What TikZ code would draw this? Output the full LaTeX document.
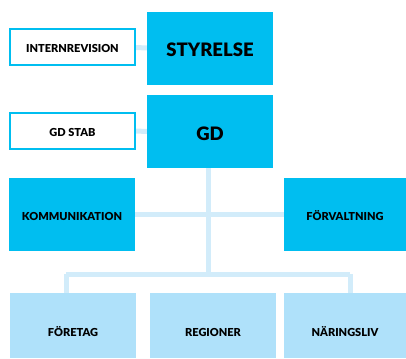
\documentclass[tikz,border=0pt]{standalone}
\usepackage{fontspec}
\setmainfont{Lato}[BoldFont={Lato Black}]
\usetikzlibrary{backgrounds}
\definecolor{topblue}{RGB}{0,190,240}
\definecolor{lowblue}{RGB}{175,225,250}
\definecolor{linkblue}{RGB}{210,236,250}
\tikzset{
  topbox/.style={fill=topblue, inner sep=0pt, minimum width=126pt, minimum height=73pt,
    text height=17pt, text depth=0pt, font=\bfseries\fontsize{18.5}{18.5}\selectfont},
  midbox/.style={fill=topblue, inner sep=0pt, minimum height=73pt,
    text height=12pt, text depth=0pt, font=\bfseries\fontsize{11}{11}\selectfont},
  sidebox/.style={draw=topblue, line width=1.5pt, fill=white, inner sep=0pt,
    minimum width=125pt, minimum height=36pt,
    text height=12pt, text depth=0pt, font=\bfseries\fontsize{11}{11}\selectfont},
  lowbox/.style={fill=lowblue, inner sep=0pt, minimum height=65pt,
    text height=21pt, text depth=0pt, font=\bfseries\fontsize{11}{11}\selectfont},
  link/.style={draw=linkblue, line width=5pt}
}
\begin{document}
\begin{tikzpicture}[x=1pt, y=-1pt]
    \useasboundingbox (0,0) rectangle (406,358);

    % ledning
    \node[topbox] (styr) at (210,48.5) {STYRELSE};
    \node[topbox] (gd) at (210,131.5) {GD};
    \node[sidebox] (intrev) at (72.5,47) {INTERNREVISION};
    \node[sidebox] (gdstab) at (72.5,131) {GD STAB};

    % staber
    \node[midbox, minimum width=126pt] (komm) at (72,214.5) {KOMMUNIKATION};
    \node[midbox, minimum width=122pt] (forv) at (345,214.5) {FÖRVALTNING};

    % avdelningar
    \node[lowbox, minimum width=126pt] (foretag) at (73,325.5) {FÖRETAG};
    \node[lowbox, minimum width=126pt] (regioner) at (213,325.5) {REGIONER};
    \node[lowbox, minimum width=122pt] (naring) at (345,325.5) {NÄRINGSLIV};

    \coordinate (split) at (208.5,274);
    \coordinate (left) at (66,274);
    \coordinate (right) at (350,274);

    \begin{scope}[on background layer]
      \draw[link] (intrev) -- (styr);
      \draw[link] (gdstab) -- (gd);
      \draw[link] (gd.south -| split) -- (split);
      \draw[link] (komm) -- (forv);
      \draw[link] (left) -- (right);
      \draw[link] (left) -- (left |- foretag.north);
      \draw[link] (right) -- (right |- naring.north);
    \end{scope}
\end{tikzpicture}
\end{document}
